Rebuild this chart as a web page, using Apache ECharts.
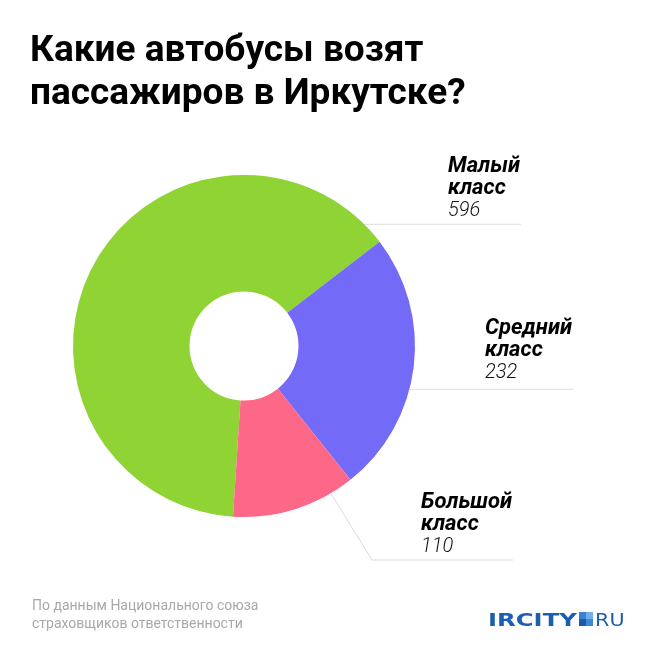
<!DOCTYPE html>
<html><head><meta charset="utf-8">
<script src="https://cdn.jsdelivr.net/npm/echarts@6/dist/echarts.min.js"></script>
<style>html,body{margin:0;padding:0;background:#fff}#c{width:656px;height:656px}</style>
</head><body><div id="c"></div>
<script>
// ---- data ----
const categories = ['Малый класс', 'Средний класс', 'Большой класс'];
const nameLines = [['Малый', 'класс'], ['Средний', 'класс'], ['Большой', 'класс']];
const values = [596, 232, 110];
const colors = ['#8fd334', '#746af8', '#fd6889'];
const titleText = 'Какие автобусы возят\nпассажиров в Иркутске?';
const sourceText = 'По данным Национального союза\nстраховщиков ответственности';
const logoMain = 'IRCITY';
const logoTail = 'RU';

// ---- layout ----
const CX = 244, CY = 346, R_IN = 54.5, R_OUT = 171;
const labelPos = [
  { x: 448, lineY: 224.3, right: 521, gap: 1 },
  { x: 485, lineY: 389.3, right: 573, gap: 4 },
  { x: 421, lineY: 560, right: 513, gap: 1, elbow: [372, 560], startDeg: 149.5 }
];

const chart = echarts.init(document.getElementById('c'), null, { renderer: 'canvas' });

const option = {
  backgroundColor: '#ffffff',
  animation: false,
  title: [{
    text: titleText,
    left: 30, top: 30, padding: 0,
    textStyle: { fontFamily: 'Roboto', fontWeight: 'bold', fontSize: 37, lineHeight: 43, color: '#000' }
  }, {
    text: sourceText,
    left: 32, top: 597, padding: 0,
    textStyle: { fontFamily: 'Roboto', fontWeight: 'normal', fontSize: 14, lineHeight: 18, color: '#a8a8a8' }
  }],
  series: [{
    type: 'pie',
    center: [CX, CY],
    radius: [R_IN, R_OUT],
    startAngle: 266.3,
    clockwise: true,
    avoidLabelOverlap: false,
    silent: true,
    itemStyle: { borderWidth: 0 },
    data: categories.map((c, i) => ({ name: c, value: values[i], itemStyle: { color: colors[i] } })),
    label: {
      show: true,
      position: 'outside',
      formatter: p => nameLines[p.dataIndex].map(s => '{n|' + s + '}').join('\n') + '\n{v|' + p.value + '}',
      rich: {
        n: { fontFamily: 'Roboto', fontWeight: 'bold', fontStyle: 'italic', fontSize: 22, lineHeight: 22, color: '#000' },
        v: { fontFamily: 'Roboto', fontWeight: 300, fontStyle: 'italic', fontSize: 20, lineHeight: 24, color: '#111' }
      }
    },
    labelLine: { show: true, lineStyle: { color: '#dcdcdc', width: 1 } },
    labelLayout: function (p) {
      const L = labelPos[p.dataIndex];
      let pts;
      if (L.elbow) {
        const a = L.startDeg * Math.PI / 180;
        const s = [CX + R_OUT * Math.sin(a), CY - R_OUT * Math.cos(a)];
        pts = [s, L.elbow, [L.right, L.lineY]];
      } else {
        const sx = CX + Math.sqrt(R_OUT * R_OUT - (L.lineY - CY) * (L.lineY - CY));
        pts = [[sx, L.lineY], [sx, L.lineY], [L.right, L.lineY]];
      }
      return { x: L.x, y: L.lineY - L.gap, align: 'left', verticalAlign: 'bottom', labelLinePoints: pts };
    }
  }],
  graphic: [{
    type: 'group', left: 488, top: 612,
    children: [
      { type: 'text', x: 0, y: 0, scaleX: 1.35,
        style: { text: logoMain, fill: '#1c5fb0', font: 'bold 18px "DejaVu Sans"', textVerticalAlign: 'top' } },
      { type: 'rect', shape: { x: 91, y: 0, width: 7, height: 7 }, style: { fill: '#3a83d4' } },
      { type: 'rect', shape: { x: 98, y: 0, width: 7, height: 7 }, style: { fill: '#74aee9' } },
      { type: 'rect', shape: { x: 91, y: 7, width: 7, height: 7 }, style: { fill: '#1b5aab' } },
      { type: 'rect', shape: { x: 98, y: 7, width: 7, height: 7 }, style: { fill: '#3f88d8' } },
      { type: 'text', x: 107, y: 0, scaleX: 1.15,
        style: { text: logoTail, fill: '#1c5fb0', font: 'normal 18px "DejaVu Sans"', textVerticalAlign: 'top' } }
    ]
  }]
};
chart.setOption(option);
</script>
</body></html>
